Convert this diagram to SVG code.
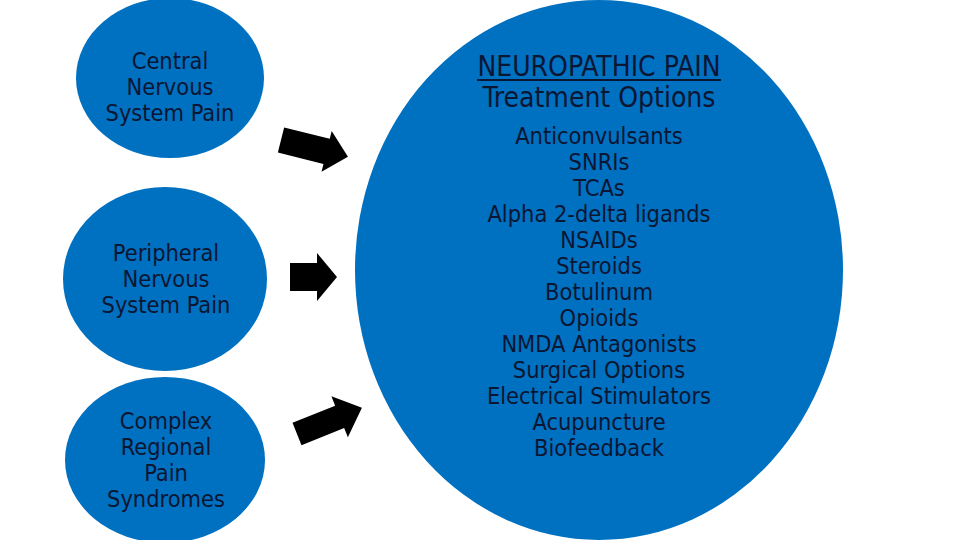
<svg xmlns="http://www.w3.org/2000/svg" width="960" height="540" viewBox="0 0 960 540">
<style>
.node{fill:#0070C0;}
.t{font-family:"DejaVu Sans Condensed","DejaVu Sans",sans-serif;font-size:23.4px;fill:#0b1633;text-anchor:middle;}
.h{font-family:"DejaVu Sans Condensed","DejaVu Sans",sans-serif;font-size:28px;fill:#0b1633;text-anchor:middle;}
.arrow{fill:#000;}
</style>
<rect width="960" height="540" fill="#fff"/>
<g id="cns">
<ellipse class="node" cx="170" cy="78" rx="94" ry="80"/>
<text class="t" x="170" y="69">Central</text>
<text class="t" x="170" y="95">Nervous</text>
<text class="t" x="170" y="121">System Pain</text>
</g>
<g id="pns">
<ellipse class="node" cx="165" cy="279" rx="102" ry="92"/>
<text class="t" x="166" y="261">Peripheral</text>
<text class="t" x="166" y="287">Nervous</text>
<text class="t" x="166" y="313">System Pain</text>
</g>
<g id="crps">
<ellipse class="node" cx="165" cy="460" rx="100" ry="83"/>
<text class="t" x="166" y="429">Complex</text>
<text class="t" x="166" y="455">Regional</text>
<text class="t" x="166" y="481">Pain</text>
<text class="t" x="166" y="507">Syndromes</text>
</g>
<g id="treatment">
<ellipse class="node" cx="599" cy="270" rx="244" ry="270"/>
<text class="h" x="599" y="76">NEUROPATHIC PAIN</text>
<line x1="477" y1="80" x2="721" y2="80" stroke="#0b1633" stroke-width="2"/>
<text class="h" x="599" y="107">Treatment Options</text>
<text class="t" x="599" y="144">Anticonvulsants</text>
<text class="t" x="599" y="170">SNRIs</text>
<text class="t" x="599" y="196">TCAs</text>
<text class="t" x="599" y="222">Alpha 2-delta ligands</text>
<text class="t" x="599" y="248">NSAIDs</text>
<text class="t" x="599" y="274">Steroids</text>
<text class="t" x="599" y="300">Botulinum</text>
<text class="t" x="599" y="326">Opioids</text>
<text class="t" x="599" y="352">NMDA Antagonists</text>
<text class="t" x="599" y="378">Surgical Options</text>
<text class="t" x="599" y="404">Electrical Stimulators</text>
<text class="t" x="599" y="430">Acupuncture</text>
<text class="t" x="599" y="456">Biofeedback</text>
</g>
<g id="connectors">
<polygon class="arrow" transform="translate(281,140) rotate(14)" points="0,-13 47,-13 47,-21 69,0 47,21 47,13 0,13"/>
<polygon class="arrow" transform="translate(290,277)" points="0,-14 27,-14 27,-24 47,0 27,24 27,14 0,14"/>
<polygon class="arrow" transform="translate(297,434) rotate(-22)" points="0,-12 46,-12 46,-22 70,0 46,22 46,12 0,12"/>
</g>
</svg>
